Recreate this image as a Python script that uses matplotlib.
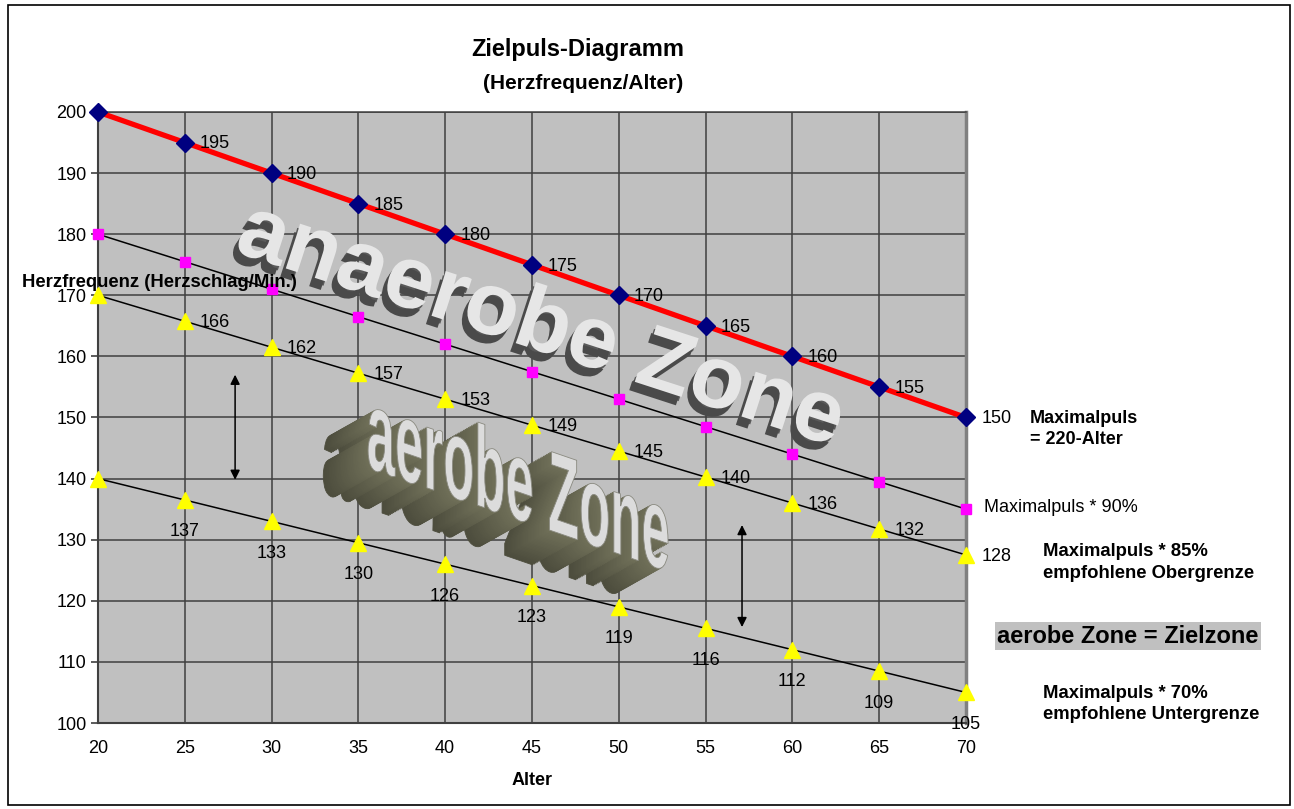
import matplotlib.pyplot as plt
import numpy as np
from matplotlib import patheffects as pe
from matplotlib.textpath import TextPath
from matplotlib.font_manager import FontProperties
from matplotlib.patches import PathPatch, Rectangle
import matplotlib.transforms as mtransforms

plt.rcParams['font.family'] = ['Liberation Sans', 'DejaVu Sans']

# Daten
alter = [20, 25, 30, 35, 40, 45, 50, 55, 60, 65, 70]
maxpuls = [200, 195, 190, 185, 180, 175, 170, 165, 160, 155, 150]
puls90 = [180, 175.5, 171, 166.5, 162, 157.5, 153, 148.5, 144, 139.5, 135]
puls85 = [170, 165.75, 161.5, 157.25, 153, 148.75, 144.5, 140.25, 136, 131.75, 127.5]
puls70 = [140, 136.5, 133, 129.5, 126, 122.5, 119, 115.5, 112, 108.5, 105]

lbl_max = ['', '195', '190', '185', '180', '175', '170', '165', '160', '155', '150']
lbl_85 = ['', '166', '162', '157', '153', '149', '145', '140', '136', '132', '128']
lbl_70 = ['', '137', '133', '130', '126', '123', '119', '116', '112', '109', '105']

fig = plt.figure(figsize=(12.94, 8.09), dpi=100)
fig.patches.append(Rectangle((8 / 1294, 4 / 809), 1282 / 1294, 800 / 809,
                             transform=fig.transFigure, fill=False,
                             edgecolor='black', lw=1.2))

ax = fig.add_axes([0.0757, 0.1063, 0.6708, 0.7553])
ax.set_facecolor('#c0c0c0')
ax.set_xlim(20, 70)
ax.set_ylim(100, 200)
ax.set_xticks(alter)
ax.set_yticks(range(100, 201, 10))
ax.grid(True, color='#404040', lw=1.1)
ax.set_axisbelow(True)
ax.tick_params(axis='x', length=0, pad=12, labelsize=13)
ax.tick_params(axis='y', length=5, width=1.2, color='#404040', pad=3, labelsize=13)
for s in ['left', 'bottom']:
    ax.spines[s].set_color('#404040')
    ax.spines[s].set_linewidth(1.5)
ax.spines['top'].set_color('#404040')
ax.spines['top'].set_linewidth(1.1)
ax.spines['right'].set_color('#808080')
ax.spines['right'].set_linewidth(2.5)

# WordArt "anaerobe Zone"
ax.text(45.5, 164.8, 'anaerobe Zone', fontsize=64, fontweight='bold',
        color='#e6e6e6', rotation=-18, ha='center', va='center',
        rotation_mode='anchor', zorder=2,
        path_effects=[pe.SimplePatchShadow(offset=(-2, -3), shadow_rgbFace='#5a5a5a', alpha=1),
                      pe.SimplePatchShadow(offset=(-4, -6), shadow_rgbFace='#4a4a4a', alpha=1),
                      pe.Normal()])

# WordArt "aerobe Zone" (3D)
fp = FontProperties(family='Liberation Sans', weight='bold')
tp = TextPath((0, 0), 'aerobe Zone', size=1, prop=fp)
base = mtransforms.Affine2D().scale(51, 115).skew_deg(0, -19)
p = base.transform_path(tp)
ext = p.get_extents()
cx, cy = ax.transData.transform((44.2, 138.3))
p = mtransforms.Affine2D().translate(cx - (ext.x0 + ext.x1) / 2,
                                     cy - (ext.y0 + ext.y1) / 2).transform_path(p)
n = 28
for k in range(n, 0, -1):
    t = k / n
    col = (0.44 - 0.14 * t, 0.44 - 0.14 * t, 0.35 - 0.11 * t)
    fig.patches.append(PathPatch(p, transform=mtransforms.Affine2D().translate(-1.6 * k, -0.9 * k),
                                 facecolor=col, edgecolor=col, lw=0.6, zorder=2))
fig.patches.append(PathPatch(p, transform=mtransforms.IdentityTransform(),
                             facecolor='#dcdcdc', edgecolor='#8a8a80', lw=0.6, zorder=2))

# Reihen
ax.plot(alter, maxpuls, color='red', lw=3.8, zorder=3)
ax.plot(alter, maxpuls, ls='none', marker='D', ms=9, color='#000080', zorder=5, clip_on=False)
ax.plot(alter, puls90, color='black', lw=1.1, zorder=3)
ax.plot(alter, puls90, ls='none', marker='s', ms=6.5, color='#ff00ff', zorder=5, clip_on=False)
ax.plot(alter, puls85, color='black', lw=1.1, zorder=3)
ax.plot(alter, puls85, ls='none', marker='^', ms=12, color='#ffff00', zorder=5, clip_on=False)
ax.plot(alter, puls70, color='black', lw=1.1, zorder=3)
ax.plot(alter, puls70, ls='none', marker='^', ms=12, color='#ffff00', zorder=5, clip_on=False)

for x, y, l in zip(alter, maxpuls, lbl_max):
    if l:
        ax.annotate(l, (x, y), xytext=(11, -1), textcoords='offset points',
                    va='center', ha='left', fontsize=13, zorder=6, annotation_clip=False)
for x, y, l in zip(alter, puls85, lbl_85):
    if l:
        ax.annotate(l, (x, y), xytext=(11, -1), textcoords='offset points',
                    va='center', ha='left', fontsize=13, zorder=6, annotation_clip=False)
for x, y, l in zip(alter, puls70, lbl_70):
    if l:
        ax.annotate(l, (x, y), xytext=(0, -23), textcoords='offset points',
                    va='center', ha='center', fontsize=13, zorder=6, annotation_clip=False)
ax.annotate('Maximalpuls * 90%', (alter[-1], puls90[-1]), xytext=(13, 1),
            textcoords='offset points', va='center', ha='left', fontsize=13,
            annotation_clip=False)

# Doppelpfeile
for x0, y0, y1 in [(27.9, 157.0, 139.8), (57.1, 132.4, 115.7)]:
    ax.annotate('', xy=(x0, y0), xytext=(x0, y1),
                arrowprops=dict(arrowstyle='<|-|>', color='black', lw=1.1,
                                mutation_scale=14, shrinkA=0, shrinkB=0), zorder=6)

# Texte
fig.text(0.4467, 0.9382, 'Zielpuls-Diagramm', fontsize=17, fontweight='bold',
         ha='center', va='center')
fig.text(0.4505, 0.8974, '(Herzfrequenz/Alter)', fontsize=15, fontweight='bold',
         ha='center', va='center')
fig.text(0.4111, 0.0358, 'Alter', fontsize=13, fontweight='bold', ha='center', va='center')
fig.text(0.0170, 0.6514, 'Herzfrequenz (Herzschlag/Min.)', fontsize=13.3,
         fontweight='bold', ha='left', va='center', zorder=10)
fig.text(0.796, 0.470, 'Maximalpuls\n= 220-Alter', fontsize=13, fontweight='bold',
         ha='left', va='center', linespacing=1.3)
fig.text(0.806, 0.3047, 'Maximalpuls * 85%\nempfohlene Obergrenze', fontsize=13.3,
         fontweight='bold', ha='left', va='center', linespacing=1.35)
fig.text(0.8715, 0.2138, 'aerobe Zone = Zielzone', fontsize=17, fontweight='bold',
         ha='center', va='center',
         bbox=dict(boxstyle='square,pad=0.1', facecolor='#c0c0c0', edgecolor='none'))
fig.text(0.806, 0.1298, 'Maximalpuls * 70%\nempfohlene Untergrenze', fontsize=13.3,
         fontweight='bold', ha='left', va='center', linespacing=1.35)

fig.savefig('out.png', dpi=100)
